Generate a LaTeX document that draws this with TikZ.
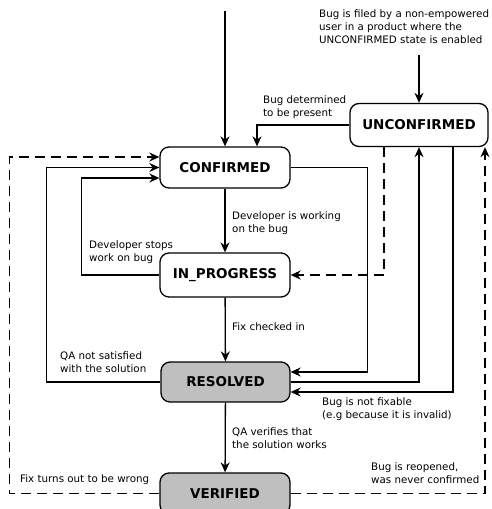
\documentclass[tikz,border=0pt]{standalone}
\usepackage{fontspec}
\setmainfont{DejaVu Sans}
\usepackage{tikz}
\usetikzlibrary{positioning,calc,arrows.meta}
\definecolor{stategray}{RGB}{191,191,191}
\tikzstyle{state} = [rectangle, rounded corners=9pt, draw=black, line width=1.3pt, fill=white,
  minimum width=130pt, minimum height=41pt, inner sep=0pt, font=\fontsize{13.5}{16}\selectfont\bfseries]
\tikzstyle{done} = [state, fill=stategray]
\tikzstyle{arrow} = [line width=1.3pt, -{Stealth[length=10pt,width=9pt]}]
\tikzstyle{maybe} = [arrow, dash pattern=on 10pt off 6pt]
\tikzstyle{note} = [anchor=north west, align=left, inner sep=0pt, font=\fontsize{10.3}{13}\selectfont]

\begin{document}
\begin{tikzpicture}[x=1pt,y=-1pt]
        \useasboundingbox (0,0) rectangle (492,509);
        % States ------------------------------------------------------------------------------------
        \node[state](confirmed) at (225,167.5){CONFIRMED};
        \node[state, minimum width=138pt, minimum height=43pt](unconfirmed) at (419,125){UNCONFIRMED};
        \node[state, minimum height=44pt](inprogress) at (225,275){IN\_PROGRESS};
        \node[done, minimum width=129pt, minimum height=40pt](resolved) at (225.5,382){RESOLVED};
        \node[done](verified) at (225,493.5){VERIFIED};
        % Notes -------------------------------------------------------------------------------------
        \node[note](filed_note) at (319,9){Bug is filed by a non-empowered\\user in a product where the\\UNCONFIRMED state is enabled};
        \node[note](present_note) at (263,95){Bug determined\\to be present};
        \node[note](working_note) at (232,211){Developer is working\\on the bug};
        \node[note](stops_note) at (89,240){Developer stops\\work on bug};
        \node[note](checked_note) at (232,322){Fix checked in};
        \node[note](qa_note) at (60,351){QA not satisfied\\with the solution};
        \node[note](fixable_note) at (322,397){Bug is not fixable\\(e.g because it is invalid)};
        \node[note](verifies_note) at (232,427){QA verifies that\\the solution works};
        \node[note](wrong_note) at (20,474){Fix turns out to be wrong};
        \node[note](reopened_note) at (371,462){Bug is reopened,\\was never confirmed};
        % Entry points
        \coordinate (start) at (225,11);
        \coordinate (filed) at (419,55);
        % Arrows -----------------------------------------------------------------------------------
        \draw[arrow] (start) -- (confirmed);
        \draw[arrow] (filed) -- (unconfirmed);
        \draw[arrow] (unconfirmed.west) -| ([xshift=32pt]confirmed.north);
        \draw[arrow] (confirmed) -- (inprogress);
        \draw[arrow] (inprogress) -- (resolved);
        \draw[arrow] (resolved) -- (verified);
        \draw[arrow] (confirmed.east) -- ++(77,0) |- ([yshift=10pt]resolved.east);
        \draw[arrow] ([xshift=34pt]unconfirmed.south) |- ([yshift=-10pt]resolved.east);
        \draw[arrow] (resolved.east) -| (unconfirmed.south);
        \draw[arrow] (inprogress.west) -- ++(-78,0) |- ([yshift=-10.5pt]confirmed.west);
        \draw[arrow] (resolved.west) -- ++(-114,0) |- (confirmed.west);
        % Reopened ---------------------------------------------------------------------------------
        \draw[maybe] ([xshift=-35pt]unconfirmed.south) |- (inprogress.east);
        \draw[maybe] (verified.east) -| ([xshift=66pt]unconfirmed.south);
        \draw[maybe] (verified.west) -- ++(-150,0) |- ([yshift=10.5pt]confirmed.west);
    \end{tikzpicture}
\end{document}
